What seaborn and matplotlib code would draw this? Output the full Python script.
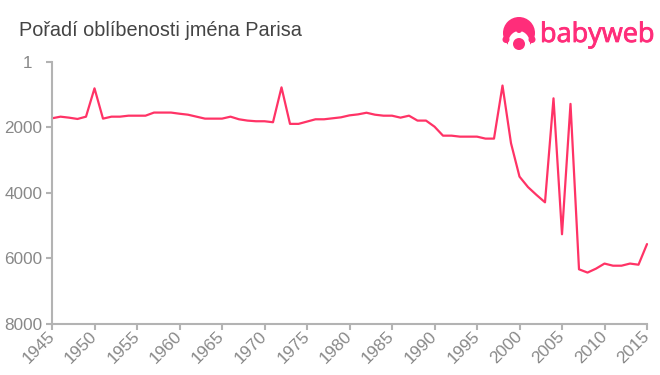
import pandas as pd
import seaborn as sns
import matplotlib.pyplot as plt
import matplotlib.patheffects as pe
from matplotlib.patches import Circle, Ellipse

years = list(range(1945, 2016))
ranks = [1720, 1670, 1700, 1740, 1670, 805, 1730, 1670, 1670, 1640,
         1640, 1640, 1545, 1545, 1545, 1580, 1610, 1670, 1730, 1730,
         1730, 1670, 1750, 1790, 1810, 1810, 1840, 775, 1890, 1890,
         1820, 1750, 1750, 1720, 1690, 1630, 1600, 1550, 1610, 1640,
         1640, 1700, 1640, 1790, 1790, 1975, 2250, 2250, 2280, 2280,
         2280, 2340, 2340, 720, 2480, 3500, 3820, 4060, 4285, 1110,
         5260, 1280, 6330, 6430, 6310, 6155, 6220, 6220, 6155, 6190,
         5560]
y_ticks = [1, 2000, 4000, 6000, 8000]
y_labels = ['1  ', '2000', '4000', '6000', '8000']
x_ticks = list(range(1945, 2016, 5))
title = 'Pořadí oblíbenosti jména Parisa'

df = pd.DataFrame({'year': years, 'rank': ranks})

sns.set_theme(style='white')
plt.rcParams['font.family'] = ['Liberation Sans', 'DejaVu Sans']

W, H = 660, 375
fig = plt.figure(figsize=(W / 100, H / 100), dpi=100)
ax = fig.add_axes([52 / W, 1 - 324 / H, 595 / W, 262 / H])

sns.lineplot(data=df, x='year', y='rank', color='#ff3366', linewidth=1.6, ax=ax)
ax.lines[0].set_clip_on(False)

ax.set_xlim(1945, 2015)
ax.set_ylim(8000, 1)
ax.set_xlabel('')
ax.set_ylabel('')
ax.set_xticks(x_ticks)
ax.set_yticks(y_ticks)
ax.set_yticklabels(y_labels)
ax.tick_params(axis='both', colors='#b3b3b3', length=4, width=1.5, labelsize=12.3,
               labelcolor='#888888', pad=3, bottom=True, left=True)
for lbl in ax.get_xticklabels():
    lbl.set_rotation(45)
    lbl.set_horizontalalignment('right')
    lbl.set_verticalalignment('center')
    lbl.set_rotation_mode('anchor')
sns.despine(ax=ax)
for side in ('left', 'bottom'):
    ax.spines[side].set_color('#b3b3b3')
    ax.spines[side].set_linewidth(1.5)

fig.text(19 / W, 1 - 30 / H, title, fontsize=14.3, color='#444444', va='center', ha='left')

# logo, drawn in pixel coordinates on a see-through overlay
logo = fig.add_axes([0, 0, 1, 1], facecolor='none')
logo.set_xlim(0, W)
logo.set_ylim(H, 0)
logo.axis('off')
pink = '#ff2d7a'
logo.add_patch(Circle((519, 33), 16, color=pink, lw=0))
logo.add_patch(Ellipse((519, 44), 22, 26, color='white', lw=0))
logo.add_patch(Circle((506, 39.5), 3.5, color=pink, lw=0))
logo.add_patch(Circle((532, 39.5), 3.5, color=pink, lw=0))
logo.add_patch(Circle((519, 30), 3, color=pink, lw=0))
logo.add_patch(Circle((519, 44), 6, color=pink, lw=0))
wordmark = logo.text(540, 35, 'babyweb', fontsize=19.5, color=pink, family='Open Sans',
                     va='center', ha='left')
wordmark.set_path_effects([pe.withStroke(linewidth=0.6, foreground=pink)])

fig.savefig('out.png', dpi=100)
